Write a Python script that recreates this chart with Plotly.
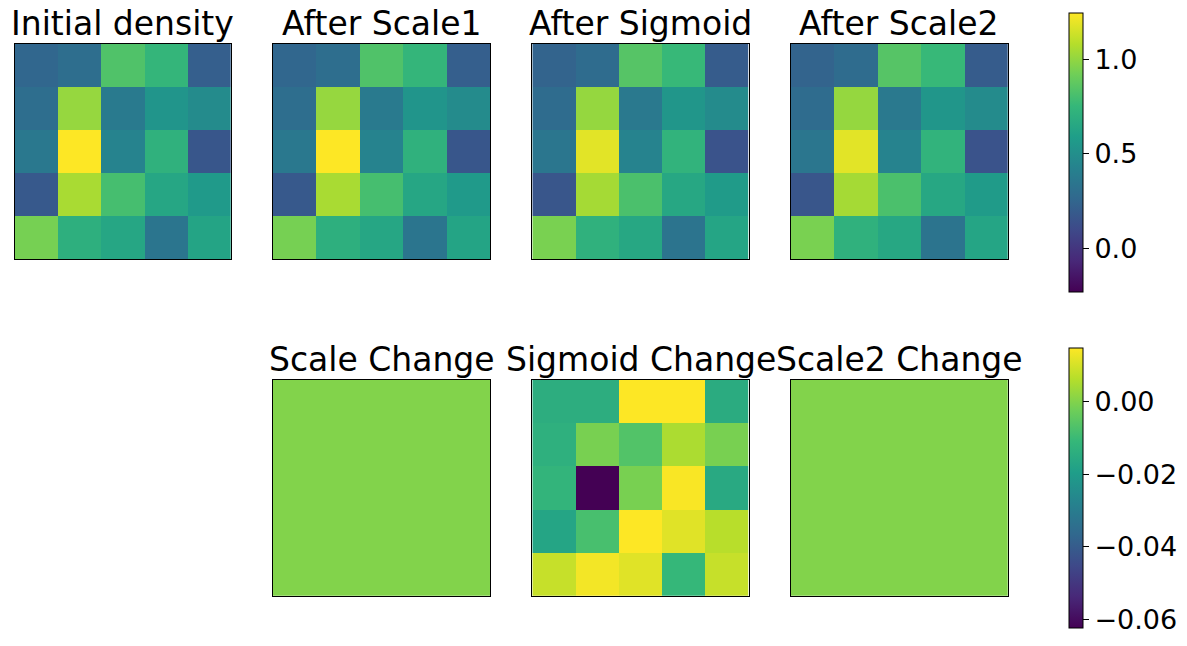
import plotly.graph_objects as go

W, H = 1187, 646

# ---------------- data (5x5 grids, row 0 = top row) ----------------
initial_density = [
    [0.258, 0.303, 0.835, 0.746, 0.214],
    [0.303, 1.012, 0.376, 0.539, 0.480],
    [0.362, 1.249, 0.436, 0.716, 0.170],
    [0.184, 1.056, 0.805, 0.643, 0.569],
    [0.938, 0.702, 0.643, 0.347, 0.628],
]
after_scale1 = [
    [0.258, 0.303, 0.835, 0.746, 0.214],
    [0.303, 1.012, 0.376, 0.539, 0.480],
    [0.362, 1.249, 0.436, 0.716, 0.170],
    [0.184, 1.056, 0.805, 0.643, 0.569],
    [0.938, 0.702, 0.643, 0.347, 0.628],
]
after_sigmoid = [
    [0.244, 0.289, 0.850, 0.761, 0.199],
    [0.290, 1.011, 0.369, 0.544, 0.479],
    [0.350, 1.187, 0.435, 0.730, 0.154],
    [0.167, 1.048, 0.820, 0.654, 0.576],
    [0.946, 0.716, 0.654, 0.336, 0.636],
]
after_scale2 = [
    [0.244, 0.289, 0.850, 0.761, 0.199],
    [0.290, 1.011, 0.369, 0.544, 0.479],
    [0.350, 1.187, 0.435, 0.730, 0.154],
    [0.167, 1.048, 0.820, 0.654, 0.576],
    [0.946, 0.716, 0.654, 0.336, 0.636],
]
scale_change = [[0.0] * 5 for _ in range(5)]
sigmoid_change = [
    [-0.0143, -0.0143, 0.0150, 0.0150, -0.0150],
    [-0.0135, -0.0012, -0.0066, 0.0050, -0.0012],
    [-0.0120, -0.0625, -0.0012, 0.0142, -0.0158],
    [-0.0173, -0.0081, 0.0147, 0.0112, 0.0065],
    [0.0081, 0.0135, 0.0112, -0.0112, 0.0081],
]
scale2_change = [[0.0] * 5 for _ in range(5)]

top_titles = ["Initial density", "After Scale1", "After Sigmoid", "After Scale2"]
bottom_titles = ["Scale Change", "Sigmoid Change", "Scale2 Change"]

top_range = (-0.2296, 1.2487)
bottom_range = (-0.0625, 0.0147)
top_ticks = [0.0, 0.5, 1.0]
top_ticktext = ["0.0", "0.5", "1.0"]
bottom_ticks = [-0.06, -0.04, -0.02, 0.0]
bottom_ticktext = ["\u22120.06", "\u22120.04", "\u22120.02", "0.00"]

# ---------------- layout geometry (pixels) ----------------
col_px = [(15, 230.7), (273, 490), (532.3, 748.7), (791, 1007.7)]
top_y = (44, 259.3)
bot_y = (380, 595.7)
FONT = "DejaVu Sans"

fig = go.Figure()
layout = dict(
    width=W, height=H,
    margin=dict(l=0, r=0, t=0, b=0),
    paper_bgcolor="white", plot_bgcolor="white",
    showlegend=False,
    font=dict(family=FONT, color="black"),
)

def add_axes(n, xpx, ypx):
    sfx = "" if n == 1 else str(n)
    ax = dict(
        domain=[xpx[0] / W, xpx[1] / W], anchor="y" + sfx,
        range=[-0.5, 4.5], showticklabels=False, ticks="",
        showgrid=False, zeroline=False, showline=True, mirror=True,
        linecolor="black", linewidth=1, fixedrange=True,
    )
    ay = dict(
        domain=[1 - ypx[1] / H, 1 - ypx[0] / H], anchor="x" + sfx,
        range=[4.5, -0.5], showticklabels=False, ticks="",
        showgrid=False, zeroline=False, showline=True, mirror=True,
        linecolor="black", linewidth=1, fixedrange=True,
    )
    layout["xaxis" + sfx] = ax
    layout["yaxis" + sfx] = ay
    return "x" + sfx, "y" + sfx

annotations = []
n = 1
top_data = [initial_density, after_scale1, after_sigmoid, after_scale2]
for i, (title, z) in enumerate(zip(top_titles, top_data)):
    xa, ya = add_axes(n, col_px[i], top_y)
    fig.add_trace(go.Heatmap(z=z, x=list(range(5)), y=list(range(5)),
                             coloraxis="coloraxis", xaxis=xa, yaxis=ya))
    annotations.append(dict(text=title, x=(col_px[i][0] + col_px[i][1]) / 2 / W,
                            y=1 - 23.6 / H, xref="paper", yref="paper",
                            xanchor="center", yanchor="middle", showarrow=False,
                            font=dict(size=33, family=FONT, color="black")))
    n += 1

bottom_data = [scale_change, sigmoid_change, scale2_change]
for j, (title, z) in enumerate(zip(bottom_titles, bottom_data)):
    i = j + 1
    xa, ya = add_axes(n, col_px[i], bot_y)
    fig.add_trace(go.Heatmap(z=z, x=list(range(5)), y=list(range(5)),
                             coloraxis="coloraxis2", xaxis=xa, yaxis=ya))
    annotations.append(dict(text=title, x=(col_px[i][0] + col_px[i][1]) / 2 / W,
                            y=1 - 359.6 / H, xref="paper", yref="paper",
                            xanchor="center", yanchor="middle", showarrow=False,
                            font=dict(size=33, family=FONT, color="black")))
    n += 1

def cbar(y0, y1, tickvals, ticktext):
    return dict(
        thickness=14, thicknessmode="pixels",
        len=(y1 - y0), lenmode="pixels",
        x=1069.3 / W, xanchor="left", xpad=0,
        y=1 - (y0 + y1) / 2 / H, yanchor="middle", ypad=0,
        outlinecolor="black", outlinewidth=1,
        ticks="outside", ticklen=6, tickwidth=1, tickcolor="black",
        tickvals=tickvals, ticktext=ticktext,
        tickfont=dict(size=27, family=FONT, color="black"),
    )

layout["coloraxis"] = dict(colorscale="Viridis", cmin=top_range[0], cmax=top_range[1],
                           colorbar=cbar(12.3, 291.7, top_ticks, top_ticktext))
layout["coloraxis2"] = dict(colorscale="Viridis", cmin=bottom_range[0], cmax=bottom_range[1],
                            colorbar=cbar(348.3, 628.3, bottom_ticks, bottom_ticktext))
layout["annotations"] = annotations

fig.update_layout(**layout)
fig.write_html("out.html")
